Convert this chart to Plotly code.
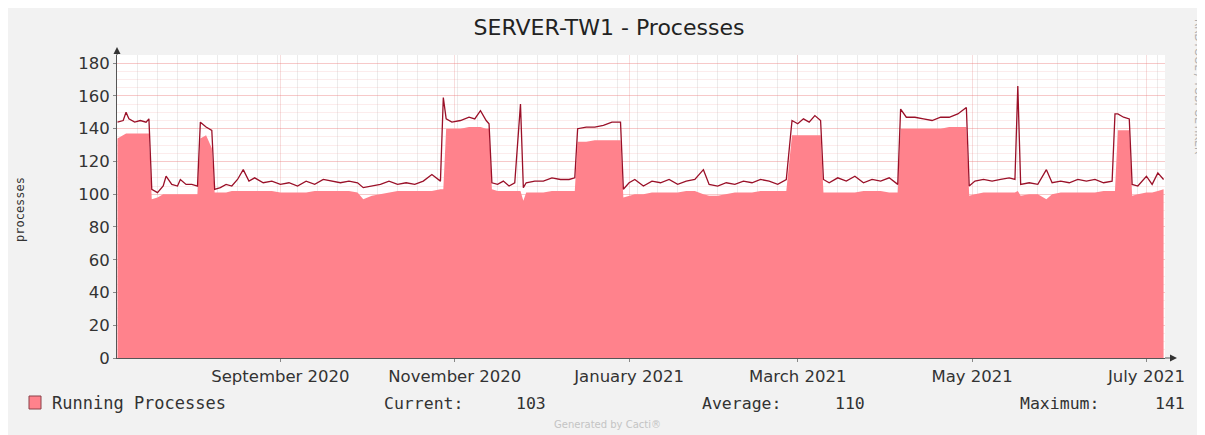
import plotly.graph_objects as go

# ---------------- data ----------------
dates = [
    "2020-07-06", "2020-07-08", "2020-07-09", "2020-07-10", "2020-07-12", "2020-07-14", "2020-07-16", "2020-07-17",
    "2020-07-18", "2020-07-20", "2020-07-22", "2020-07-23", "2020-07-25", "2020-07-27", "2020-07-28", "2020-07-30",
    "2020-08-01", "2020-08-03", "2020-08-04", "2020-08-06", "2020-08-08", "2020-08-09", "2020-08-11", "2020-08-13",
    "2020-08-15", "2020-08-17", "2020-08-19", "2020-08-21", "2020-08-23", "2020-08-26", "2020-08-29", "2020-09-01",
    "2020-09-04", "2020-09-07", "2020-09-10", "2020-09-13", "2020-09-16", "2020-09-19", "2020-09-22", "2020-09-25",
    "2020-09-28", "2020-09-30", "2020-10-03", "2020-10-06", "2020-10-09", "2020-10-12", "2020-10-15", "2020-10-18",
    "2020-10-21", "2020-10-24", "2020-10-27", "2020-10-28", "2020-10-29", "2020-10-31", "2020-11-03", "2020-11-06",
    "2020-11-08", "2020-11-10", "2020-11-12", "2020-11-13", "2020-11-14", "2020-11-16", "2020-11-18", "2020-11-20",
    "2020-11-22", "2020-11-24", "2020-11-25", "2020-11-26", "2020-11-29", "2020-12-02", "2020-12-05", "2020-12-08",
    "2020-12-11", "2020-12-13", "2020-12-14", "2020-12-17", "2020-12-20", "2020-12-23", "2020-12-26", "2020-12-29",
    "2020-12-30", "2021-01-01", "2021-01-03", "2021-01-06", "2021-01-09", "2021-01-12", "2021-01-15", "2021-01-18",
    "2021-01-21", "2021-01-24", "2021-01-27", "2021-01-29", "2021-02-01", "2021-02-04", "2021-02-07", "2021-02-10",
    "2021-02-13", "2021-02-16", "2021-02-19", "2021-02-22", "2021-02-25", "2021-02-27", "2021-03-01", "2021-03-03",
    "2021-03-05", "2021-03-07", "2021-03-09", "2021-03-10", "2021-03-12", "2021-03-15", "2021-03-18", "2021-03-21",
    "2021-03-24", "2021-03-27", "2021-03-30", "2021-04-02", "2021-04-05", "2021-04-06", "2021-04-08", "2021-04-11",
    "2021-04-14", "2021-04-17", "2021-04-20", "2021-04-23", "2021-04-26", "2021-04-29", "2021-04-30", "2021-05-02",
    "2021-05-05", "2021-05-08", "2021-05-11", "2021-05-14", "2021-05-16", "2021-05-17", "2021-05-18", "2021-05-21",
    "2021-05-24", "2021-05-27", "2021-05-29", "2021-06-01", "2021-06-04", "2021-06-07", "2021-06-10", "2021-06-13",
    "2021-06-16", "2021-06-19", "2021-06-20", "2021-06-21", "2021-06-23", "2021-06-25", "2021-06-26", "2021-06-28",
    "2021-07-01", "2021-07-03", "2021-07-05", "2021-07-07",
]

running_avg = [
    134, 136, 137, 137, 137, 137, 137, 137,
    97, 98, 100, 100, 100, 100, 100, 100,
    100, 100, 134, 136, 128, 101, 101, 101,
    102, 102, 102, 102, 102, 102, 102, 101,
    101, 101, 101, 102, 102, 102, 102, 102,
    101, 97, 99, 100, 101, 102, 102, 102,
    102, 102, 103, 103, 140, 140, 140, 141,
    141, 141, 140, 140, 103, 102, 102, 102,
    102, 102, 96, 101, 101, 101, 102, 102,
    102, 102, 132, 132, 133, 133, 133, 133,
    98, 99, 100, 100, 101, 101, 101, 101,
    102, 102, 100, 99, 99, 100, 101, 101,
    101, 102, 102, 102, 102, 136, 136, 136,
    136, 136, 136, 101, 101, 101, 101, 101,
    102, 102, 102, 101, 101, 140, 140, 140,
    140, 140, 140, 141, 141, 141, 99, 100,
    101, 101, 101, 101, 101, 102, 99, 100,
    100, 97, 100, 101, 101, 101, 101, 101,
    102, 102, 102, 139, 139, 139, 99, 100,
    101, 101, 102, 103,
]

running_max = [
    144, 145, 150, 146, 144, 145, 144, 146,
    103, 101, 105, 111, 106, 105, 109, 106,
    106, 105, 144, 141, 139, 103, 104, 106,
    105, 109, 115, 108, 110, 107, 108, 106,
    107, 105, 108, 106, 109, 108, 107, 108,
    107, 104, 105, 106, 108, 106, 107, 106,
    108, 112, 108, 159, 146, 144, 145, 147,
    146, 151, 145, 143, 107, 106, 108, 105,
    107, 155, 104, 107, 108, 108, 110, 109,
    109, 110, 140, 141, 141, 142, 144, 144,
    103, 107, 109, 105, 108, 107, 109, 106,
    108, 109, 115, 106, 105, 107, 106, 108,
    107, 109, 108, 106, 109, 145, 143, 146,
    144, 148, 145, 109, 107, 110, 108, 111,
    107, 109, 108, 110, 106, 152, 147, 147,
    146, 145, 147, 147, 149, 153, 105, 108,
    109, 108, 109, 110, 109, 166, 106, 107,
    106, 115, 107, 108, 107, 109, 108, 109,
    107, 108, 149, 149, 147, 146, 106, 105,
    111, 106, 113, 109,
]

x_tick_vals = ["2020-09-01", "2020-11-01", "2021-01-01", "2021-03-01", "2021-05-01", "2021-07-01"]
x_tick_text = ["September 2020", "November 2020", "January 2021", "March 2021", "May 2021", "July 2021"]
y_tick_vals = [0, 20, 40, 60, 80, 100, 120, 140, 160, 180]

legend_label = "Running Processes"
stat_current = 103
stat_average = 110
stat_maximum = 141

# ---------------- geometry helpers ----------------
# page coordinates = figure coordinates + OFF (browser body margin)
OFF = 8
W, H = 1205, 435
L = 117 - OFF            # plot left (figure px)
T = 55 - OFF             # plot top
PB = 358 - OFF           # plot bottom
PR = 1165 - OFF          # plot right
R, B = W - PR, H - PB
PW, PH = PR - L, PB - T


def px(xp):  # page x -> paper
    return (xp - OFF - L) / PW


def py(yp):  # page y -> paper
    return (PB - (yp - OFF)) / PH


FILL = "#FF828C"
LINE = "#9A1028"
MONO = "DejaVu Sans Mono"
SANS = "DejaVu Sans"

fig = go.Figure()
fig.add_trace(go.Scatter(
    x=dates, y=running_avg, mode="lines", fill="tozeroy",
    fillcolor=FILL, line=dict(width=0, color=FILL), hoverinfo="skip",
    showlegend=False,
))
fig.add_trace(go.Scatter(
    x=dates, y=running_max, mode="lines",
    line=dict(width=1.3, color=LINE), showlegend=False,
))

fig.update_layout(
    width=W, height=H,
    margin=dict(l=L, r=R, t=T, b=B, pad=0),
    paper_bgcolor="#F2F2F2",
    plot_bgcolor="#FFFFFF",
    title=dict(text="SERVER-TW1 - Processes", x=(609 - OFF) / W, xanchor="center",
               y=1 - (27 - OFF) / H, yanchor="middle",
               font=dict(family=SANS, size=22, color="#222222")),
    xaxis=dict(
        type="date", range=["2020-07-05 20:00", "2021-07-07 12:00"],
        tickmode="array", tickvals=x_tick_vals, ticktext=x_tick_text,
        tickfont=dict(family=SANS, size=16.5, color="#333333"),
        showgrid=True, gridcolor="rgba(225,120,120,0.25)", gridwidth=1,
        minor=dict(dtick=7 * 86400000, tick0="2020-07-06", showgrid=True,
                   gridcolor="rgba(170,170,170,0.22)", gridwidth=1),
        showline=True, linecolor="#555555", linewidth=1,
        ticks="outside", ticklen=3, tickcolor="#888888",
        zeroline=False, fixedrange=True,
    ),
    yaxis=dict(
        range=[0, 185], tickmode="array", tickvals=y_tick_vals,
        tickfont=dict(family=SANS, size=16.5, color="#333333"),
        showgrid=True, gridcolor="rgba(235,120,120,0.3)", gridwidth=1,
        minor=dict(dtick=5, tick0=0, showgrid=True,
                   gridcolor="rgba(240,170,170,0.22)", gridwidth=1),
        showline=True, linecolor="#555555", linewidth=1,
        ticks="outside", ticklen=3, tickcolor="#888888",
        zeroline=False, fixedrange=True,
    ),
)

# axis arrows
a = 3.5
fig.add_shape(type="line", xref="paper", yref="paper",
              x0=px(117), y0=py(55), x1=px(117), y1=py(50),
              line=dict(color="#555555", width=1))
fig.add_shape(type="path", xref="paper", yref="paper",
              path=f"M {px(117 - a)},{py(54)} L {px(117 + a)},{py(54)} L {px(117)},{py(47)} Z",
              fillcolor="#333333", line=dict(width=0))
fig.add_shape(type="line", xref="paper", yref="paper",
              x0=px(1165), y0=py(358), x1=px(1170), y1=py(358),
              line=dict(color="#555555", width=1))
fig.add_shape(type="path", xref="paper", yref="paper",
              path=f"M {px(1170)},{py(358 - a)} L {px(1170)},{py(358 + a)} L {px(1177)},{py(358)} Z",
              fillcolor="#333333", line=dict(width=0))

# legend swatch
fig.add_shape(type="rect", xref="paper", yref="paper",
              x0=px(29), y0=py(409), x1=px(41), y1=py(396),
              fillcolor=FILL, line=dict(color="#8A4048", width=1))


def note(text, xp, yp, anchor="left", size=13, family=MONO, color="#333333", angle=0):
    fig.add_annotation(text=text, xref="paper", yref="paper", x=px(xp), y=py(yp),
                       xanchor=anchor, yanchor="middle", showarrow=False,
                       textangle=angle, font=dict(family=family, size=size, color=color))


note(legend_label, 50, 403, size=17)
note("Current:", 382, 403, size=16.5)
note(str(stat_current), 548, 403, anchor="right", size=16.5)
note("Average:", 700, 403, size=16.5)
note(str(stat_average), 867, 403, anchor="right", size=16.5)
note("Maximum:", 1018, 403, size=16.5)
note(str(stat_maximum), 1187, 403, anchor="right", size=16.5)
note("Generated by Cacti®", 607, 424, anchor="center", size=10, family=SANS, color="#C4C4C4")
note("processes", 20, 210, anchor="center", size=12, angle=-90)
note("RRDTOOL / TOBI OETIKER", 1199, 86, anchor="center", size=10.5, family=SANS, color="#ADADAD", angle=90)

fig.write_html("out.html")
